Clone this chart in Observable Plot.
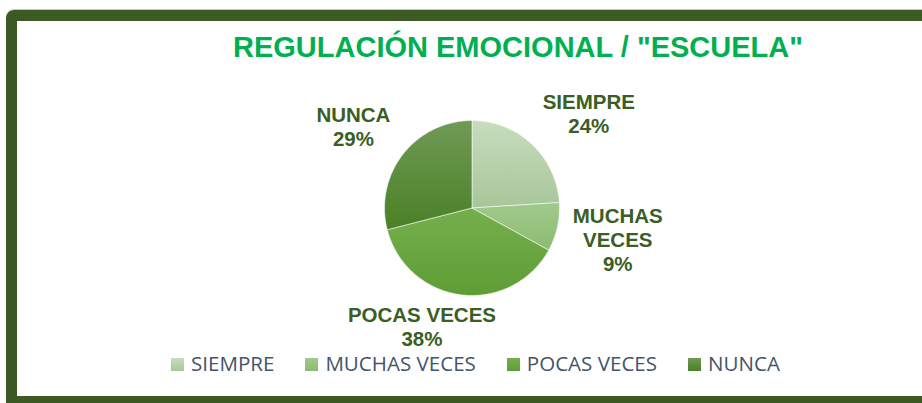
<!DOCTYPE html>
<html><head><meta charset="utf-8">
<script src="https://cdn.jsdelivr.net/npm/d3@7"></script>
<script src="https://cdn.jsdelivr.net/npm/@observablehq/plot@0.6"></script>
<style>
html,body{margin:0;padding:0;background:#fff;width:922px;height:403px;overflow:hidden;}
#frame{position:absolute;left:6px;top:10px;width:1000px;height:397px;box-sizing:border-box;border:11px solid #3d5a25;border-top-left-radius:8px;box-shadow:0 -1px 0 #c9c9c9;}
#title{position:absolute;left:518px;top:32.5px;transform:translateX(-50%);white-space:nowrap;font:bold 29px/29px "Liberation Sans",Arial,sans-serif;color:#00b050;}
#chart{position:absolute;left:0;top:0;}
#legend{position:absolute;left:171px;top:352.8px;display:flex;font:20.55px/20.55px "Open Sans",sans-serif;color:#44546a;white-space:nowrap;}
.item{display:flex;align-items:flex-start;margin-right:31px;}
.item svg{margin-top:5.3px;margin-right:7px;flex:none;}
</style></head><body>
<div id="frame"></div>
<div id="title">REGULACIÓN EMOCIONAL / "ESCUELA"</div>
<div id="chart"></div>
<div id="legend"></div>
<script>
const categories = ["SIEMPRE", "MUCHAS VECES", "POCAS VECES", "NUNCA"];
const values = [24, 9, 38, 29];
const labelNames = ["SIEMPRE", "MUCHAS\nVECES", "POCAS VECES", "NUNCA"];
const colorsTop = ["#c7ddbd", "#a0ca8a", "#75af4d", "#6f9a55"];
const colorsBottom = ["#a8c69a", "#8cbb73", "#5e9d34", "#4a8026"];

const R = 87.5;               // pie radius in px
const cx = 471.5, cy = 207.5; // pie centre in px
const fs = 20.5, lh = 1.17;

const arcs = d3.pie().sort(null).value(d => d)(values);

// slice polygons in data units (unit circle), y up
const slices = arcs.map((a, i) => {
  const pts = [{x: 0, y: 0}];
  const n = Math.max(2, Math.ceil((a.endAngle - a.startAngle) / (Math.PI / 180)));
  for (let k = 0; k <= n; k++) {
    const t = a.startAngle + (a.endAngle - a.startAngle) * k / n;
    pts.push({x: Math.sin(t), y: Math.cos(t)});
  }
  pts.push({x: 0, y: 0});
  return pts;
});

const ctx = document.createElement("canvas").getContext("2d");
ctx.font = `bold ${fs}px 'Liberation Sans'`;
const clamp = v => Math.max(-1, Math.min(1, v));
const labels = arcs.map((a, i) => {
  const text = `${labelNames[i]}\n${values[i]}%`;
  const lines = text.split("\n");
  const w = d3.max(lines, l => ctx.measureText(l).width);
  const h = (lines.length - 1) * lh * fs + 0.716 * fs;
  const m = (a.startAngle + a.endAngle) / 2;
  const s = Math.sin(m), c = Math.cos(m);
  return {
    text,
    x: 1.18 * s + clamp(4 * s) * w / 2 / R,
    y: 1.16 * c + clamp(1.5 * c) * h / 2 / R
  };
});

const svg = Plot.plot({
  width: 922,
  height: 403,
  x: {domain: [-1, 1], range: [cx - R, cx + R], axis: null},
  y: {domain: [-1, 1], range: [cy + R, cy - R], axis: null},
  style: {background: "transparent", overflow: "visible"},
  marks: [
    ...slices.map((pts, i) => Plot.line(pts, {
      x: "x", y: "y", fill: `url(#grad${i})`, stroke: "#ffffff", strokeWidth: 0.8, strokeOpacity: 0.7
    })),
    Plot.text(labels, {
      x: "x", y: "y", text: "text", textAnchor: "middle", lineAnchor: "middle",
      lineHeight: lh, fontSize: fs, fontWeight: "bold", dy: -1.5,
      fontFamily: "'Liberation Sans', Arial, sans-serif", fill: "#3a5e24"
    })
  ]
});

const defs = d3.select(svg).insert("defs", ":first-child");
categories.forEach((c, i) => {
  const g = defs.append("linearGradient").attr("id", `grad${i}`)
    .attr("x1", 0).attr("y1", 0).attr("x2", 0).attr("y2", 1);
  g.append("stop").attr("offset", "0%").attr("stop-color", colorsTop[i]);
  g.append("stop").attr("offset", "100%").attr("stop-color", colorsBottom[i]);
});
document.getElementById("chart").appendChild(svg);

const legend = d3.select("#legend");
categories.forEach((c, i) => {
  const item = legend.append("div").attr("class", "item");
  const sw = item.append("svg").attr("width", 13).attr("height", 13);
  sw.append("rect").attr("width", 13).attr("height", 13).attr("fill", `url(#grad${i})`);
  item.append("span").text(c);
});
</script>
</body></html>
